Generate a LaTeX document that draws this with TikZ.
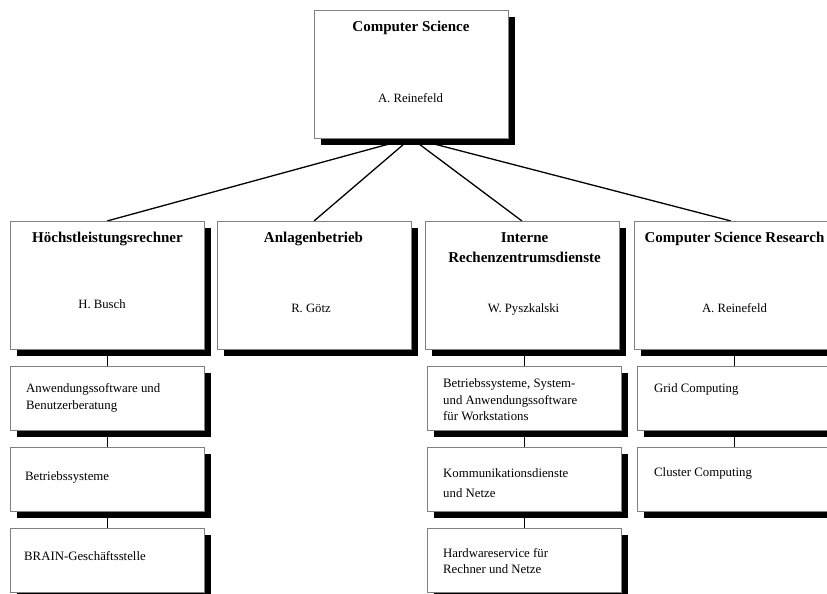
\documentclass[tikz,border=0pt]{standalone}
\usepackage{fontspec}
\setmainfont{Liberation Serif}
\usetikzlibrary{shadows,calc}
\pgfdeclarelayer{bg}
\pgfsetlayers{bg,main}
\begin{document}
\begin{tikzpicture}[x=1pt,y=-1pt,
  box/.style={draw=gray, line width=0.8pt, fill=white, anchor=north west, inner sep=0pt, outer sep=0pt,
    drop shadow={shadow xshift=7pt, shadow yshift=-7pt, fill=black, opacity=1}},
  bigbox/.style={box, minimum width=194pt, minimum height=128pt},
  smallbox/.style={box, minimum width=194pt, minimum height=64pt},
  ttl/.style={font=\fontsize{15}{17}\selectfont\bfseries, anchor=base, inner sep=0pt},
  nm/.style={font=\fontsize{12.7}{15}\selectfont, anchor=base, inner sep=0pt},
  txt/.style={font=\fontsize{12.8}{15}\selectfont, anchor=base west, inner sep=0pt},
  conn/.style={line width=1.3pt},
  vconn/.style={line width=1pt}]
\path[use as bounding box, clip] (0,0) rectangle (827,594);

% main boxes
\node[bigbox] (cs) at (314,10) {};
\node[bigbox] (hlr) at (10,221) {};
\node[bigbox] (ab) at (217,221) {};
\node[bigbox] (ird) at (425,221) {};
\node[bigbox] (csr) at (634,221) {};

% child boxes
\node[smallbox] (h1) at (10,366) {};
\node[smallbox] (h2) at (10,447) {};
\node[smallbox] (h3) at (10,528) {};
\node[smallbox] (i1) at (427,366) {};
\node[smallbox] (i2) at (427,447) {};
\node[smallbox] (i3) at (427,528) {};
\node[smallbox] (c1) at (637,366) {};
\node[smallbox] (c2) at (637,447) {};

% texts of main boxes
\node[ttl] (cst) at (411,32) {Computer Science};
\node[nm] (csn) at (410.5,102) {A. Reinefeld};
\node[ttl] (hlrt) at (107.5,242) {Höchstleistungsrechner};
\node[nm] (hlrn) at (102,308) {H. Busch};
\node[ttl] (abt) at (313.5,242) {Anlagenbetrieb};
\node[nm] (abn) at (311,312) {R. Götz};
\node[ttl] (irdta) at (524.5,242) {Interne};
\node[ttl] (irdtb) at (524.5,262) {Rechenzentrumsdienste};
\node[nm] (irdn) at (523.5,312) {W. Pyszkalski};
\node[ttl] (csrt) at (734.5,242) {Computer Science Research};
\node[nm] (csrn) at (734.5,312) {A. Reinefeld};

% texts of child boxes
\node[txt] (h1a) at (26,392) {Anwendungssoftware und};
\node[txt] (h1b) at (26,409) {Benutzerberatung};
\node[txt] (h2a) at (25,480) {Betriebssysteme};
\node[txt] (h3a) at (24,560) {BRAIN-Geschäftsstelle};
\node[txt] (i1a) at (443,387) {Betriebssysteme, System-};
\node[txt] (i1b) at (443,404) {und Anwendungssoftware};
\node[txt] (i1c) at (443,420) {für Workstations};
\node[txt] (i2a) at (443,477) {Kommunikationsdienste};
\node[txt] (i2b) at (443,497) {und Netze};
\node[txt] (i3a) at (443,557) {Hardwareservice für};
\node[txt] (i3b) at (443,573) {Rechner und Netze};
\node[txt] (c1a) at (654,392) {Grid Computing};
\node[txt] (c2a) at (654,476) {Cluster Computing};

% connectors (behind the boxes and shadows)
\begin{pgfonlayer}{bg}
\draw[conn] (cs.south) -- (hlr.north);
\draw[conn] (cs.south) -- (ab.north);
\draw[conn] (cs.south) -- (ird.north);
\draw[conn] (cs.south) -- (csr.north);
\draw[vconn] (h1.north) -- (h1.north |- hlr.south);
\draw[vconn] (h2.north) -- (h2.north |- h1.south);
\draw[vconn] (h3.north) -- (h3.north |- h2.south);
\draw[vconn] (i1.north) -- (i1.north |- ird.south);
\draw[vconn] (i2.north) -- (i2.north |- i1.south);
\draw[vconn] (i3.north) -- (i3.north |- i2.south);
\draw[vconn] (c1.north) -- (c1.north |- csr.south);
\draw[vconn] (c2.north) -- (c2.north |- c1.south);
\end{pgfonlayer}
\end{tikzpicture}
\end{document}
